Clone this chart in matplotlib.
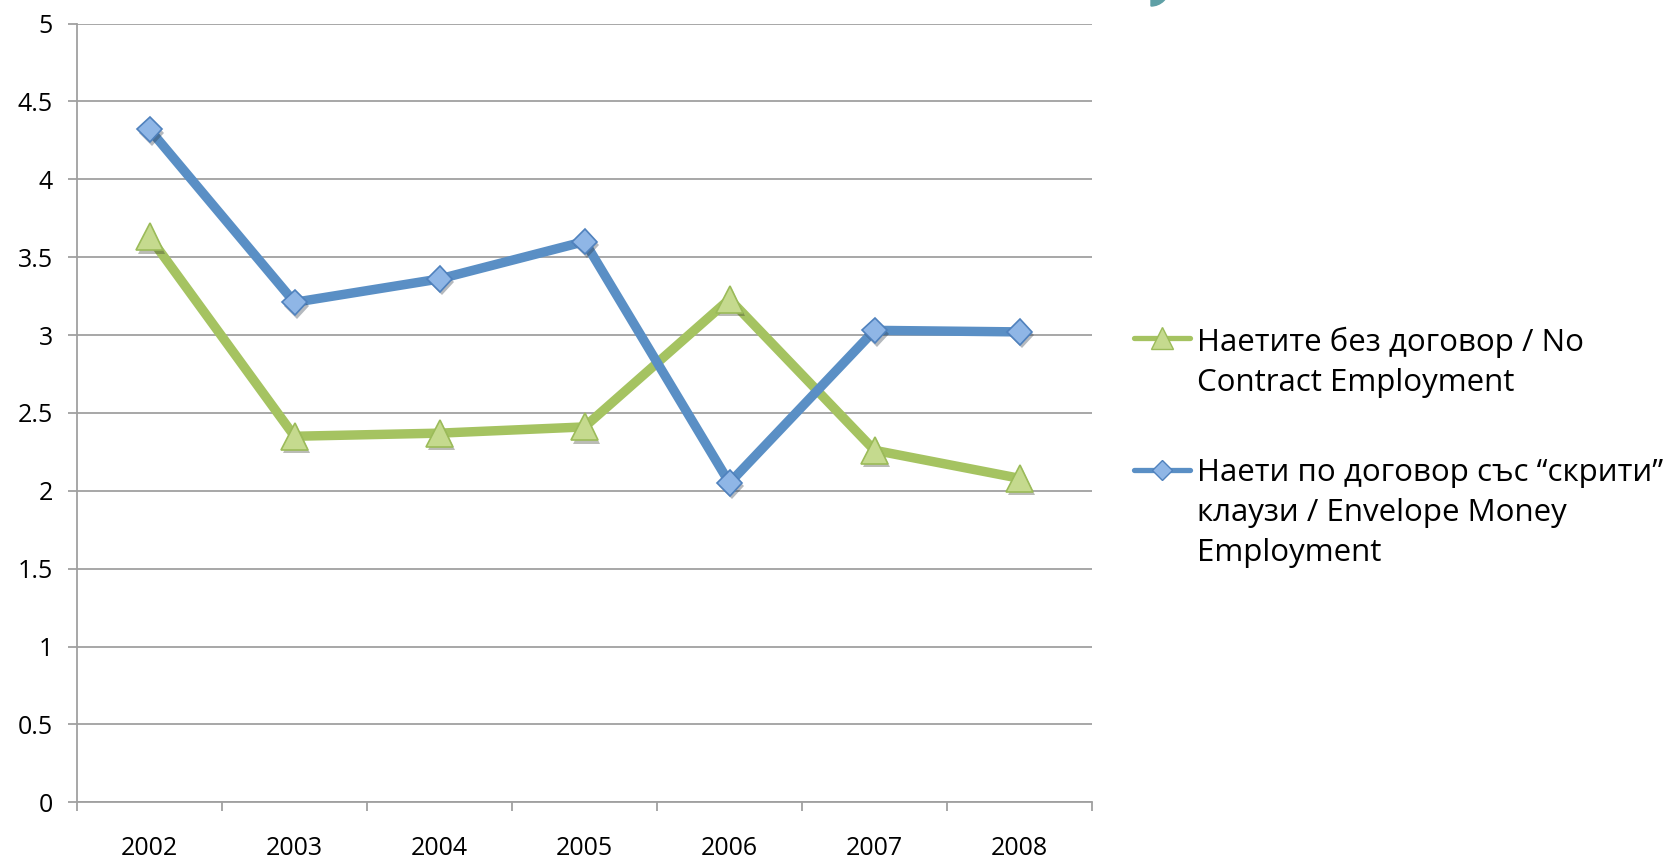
import matplotlib
matplotlib.use("Agg")
import matplotlib.pyplot as plt
from matplotlib.lines import Line2D
from matplotlib.patches import Wedge
import matplotlib.patheffects as pe

years = ["2002", "2003", "2004", "2005", "2006", "2007", "2008"]
no_contract = [3.63, 2.35, 2.37, 2.41, 3.23, 2.26, 2.08]
envelope = [4.32, 3.21, 3.36, 3.60, 2.05, 3.03, 3.02]
label_green = ["Наетите без договор / No", "Contract Employment"]
label_blue = ["Наети по договор със “скрити”", "клаузи / Envelope Money", "Employment"]
yticks = [0, 0.5, 1, 1.5, 2, 2.5, 3, 3.5, 4, 4.5, 5]
ytick_labels = ["0", "0.5", "1", "1.5", "2", "2.5", "3", "3.5", "4", "4.5", "5"]

FONT = ["Open Sans", "DejaVu Sans"]
plt.rcParams["font.family"] = FONT

W, H = 1679, 860
fig = plt.figure(figsize=(W / 100, H / 100), dpi=100)
ax = fig.add_axes([77 / W, (H - 802.3) / H, (1092 - 77) / W, (802.3 - 23.5) / H])

GREEN = "#9BBB59"
GREEN_LINE = "#A5C361"
GREEN_FILL = "#C5DA8E"
BLUE = "#4F81BD"
BLUE_LINE = "#5A8FC5"
BLUE_FILL = "#8FB6E6"
GRID = "#A0A0A0"

x = list(range(len(years)))
shadow = [pe.SimplePatchShadow(offset=(1.5, -2.5), alpha=0.35), pe.Normal()]

ax.plot(x, no_contract, color=GREEN_LINE, lw=6.8, zorder=3, solid_joinstyle="miter")
ax.plot(x, envelope, color=BLUE_LINE, lw=6.8, zorder=3, solid_joinstyle="miter")
ax.plot(x, no_contract, ls="none", marker="^", ms=19.5, mfc=GREEN_FILL, mec=GREEN,
        mew=1.2, zorder=4, path_effects=shadow)
ax.plot(x, envelope, ls="none", marker="D", ms=13, mfc=BLUE_FILL, mec=BLUE,
        mew=1.2, zorder=4, path_effects=shadow)

ax.set_xlim(-0.5, len(years) - 0.5)
ax.set_ylim(0, 5)
ax.set_yticks(yticks)
ax.set_yticklabels(ytick_labels)
ax.set_xticks(x)
ax.set_xticklabels(years)
ax.set_xticks([i - 0.5 for i in range(len(years) + 1)], minor=True)
ax.tick_params(axis="x", which="major", length=0, pad=24, labelsize=18)
ax.tick_params(axis="x", which="minor", length=6.5, width=1.3, color=GRID, direction="out")
ax.tick_params(axis="y", length=6.5, width=1.3, color=GRID, pad=11, labelsize=18)

ax.grid(axis="y", color=GRID, lw=1.3, zorder=0)
ax.set_axisbelow(True)
for s in ["top", "right"]:
    ax.spines[s].set_visible(False)
for s in ["left", "bottom"]:
    ax.spines[s].set_color(GRID)
    ax.spines[s].set_linewidth(1.3)

# manual legend (figure pixel coordinates)
def fx(px):
    return px / W

def fy(py):
    return (H - py) / H

fig.add_artist(Line2D([fx(1134), fx(1190)], [fy(338), fy(338)], color=GREEN_LINE, lw=3.8,
                      solid_capstyle="round", transform=fig.transFigure))
fig.add_artist(Line2D([fx(1162)], [fy(338)], marker="^", ms=15.5, mfc=GREEN_FILL, mec=GREEN,
                      mew=1.0, transform=fig.transFigure))
fig.add_artist(Line2D([fx(1134), fx(1190)], [fy(470), fy(470)], color=BLUE_LINE, lw=3.8,
                      solid_capstyle="round", transform=fig.transFigure))
fig.add_artist(Line2D([fx(1162)], [fy(470)], marker="D", ms=9.7, mfc=BLUE_FILL, mec=BLUE,
                      mew=1.0, transform=fig.transFigure))

LINE_STEP = 40
for i, line in enumerate(label_green):
    fig.text(fx(1197), fy(351 + i * LINE_STEP), line, fontsize=22.5, va="baseline",
             ha="left", color="black")
for i, line in enumerate(label_blue):
    fig.text(fx(1197), fy(481 + i * LINE_STEP), line, fontsize=22.5, va="baseline",
             ha="left", color="black")

# decorative slide element at top
fig.add_artist(Wedge((1151 / 100, (H + 12) / 100), 0.18, 270, 360, color="#5FA0A6",
                     transform=fig.dpi_scale_trans))

fig.savefig("out.png", dpi=100)
